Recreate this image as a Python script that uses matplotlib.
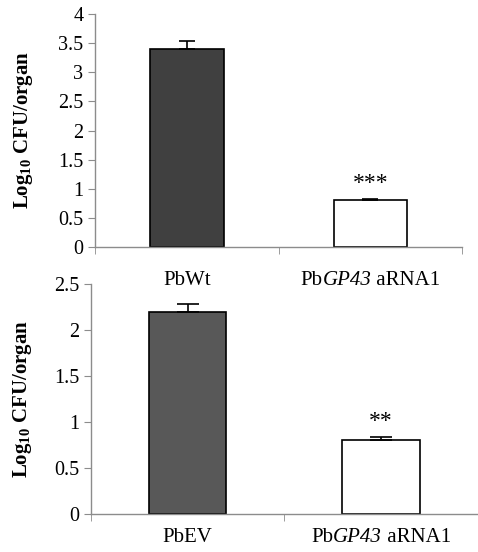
import matplotlib
matplotlib.use('Agg')
import matplotlib.pyplot as plt
from matplotlib.offsetbox import TextArea, HPacker, AnnotationBbox
import numpy as np

plt.rcParams['font.family'] = ['Liberation Serif', 'DejaVu Serif']
plt.rcParams['mathtext.fontset'] = 'custom'
plt.rcParams['mathtext.rm'] = 'Liberation Serif'
plt.rcParams['mathtext.it'] = 'Liberation Serif:italic'
plt.rcParams['mathtext.bf'] = 'Liberation Serif:bold'

# Dados - painel superior
top_labels = [[('PbWt', 'normal')],
              [('Pb', 'normal'), ('GP43', 'italic'), (' aRNA1', 'normal')]]
top_values = [3.40, 0.80]
top_errors = [0.14, 0.03]
top_stars = ['', '***']

# Dados - painel inferior
bot_labels = [[('PbEV', 'normal')],
              [('Pb', 'normal'), ('GP43', 'italic'), (' aRNA1', 'normal')]]
bot_values = [2.20, 0.80]
bot_errors = [0.08, 0.04]
bot_stars = ['', '**']

fig = plt.figure(figsize=(4.78, 5.52), dpi=100)
ax1 = fig.add_axes([0.199, 0.5525, 0.768, 0.422])
ax2 = fig.add_axes([0.190, 0.0688, 0.810, 0.4167])
ax2.patch.set_visible(False)
ax1.set_zorder(2)
ax1.patch.set_visible(False)

spine_col = '#8c8c8c'


def cat_label(ax, x, parts, off):
    boxes = [TextArea(t, textprops=dict(fontsize=15, style=st)) for t, st in parts]
    pack = HPacker(children=boxes, pad=0, sep=0, align='baseline')
    ab = AnnotationBbox(pack, (x, 0), xycoords=('data', 'axes fraction'),
                        xybox=(0, -off), boxcoords='offset points',
                        frameon=False, box_alignment=(0.5, 1), pad=0,
                        annotation_clip=False)
    ax.add_artist(ab)


def draw_panel(ax, labels, values, errors, stars, color, ymax, yticks, cap, off):
    x = np.arange(len(values))
    ax.bar(x, values, width=0.40, color=[color, 'white'], edgecolor='black',
           linewidth=1.2, zorder=2)
    ax.errorbar(x, values, yerr=[[0] * len(errors), errors], fmt='none',
                ecolor='black', elinewidth=1.2, capsize=cap, capthick=1.2, zorder=3)
    for xi, v, e, s in zip(x, values, errors, stars):
        if s:
            ax.text(xi, v + e + ymax * 0.02, s, ha='center', va='bottom', fontsize=17)
    ax.set_xlim(-0.5, len(values) - 0.5)
    ax.set_ylim(0, ymax)
    ax.set_yticks(yticks)
    ax.set_yticklabels([('%g' % t) for t in yticks], fontsize=14.5)
    ax.set_xticks([])
    for xi, parts in zip(x, labels):
        cat_label(ax, xi, parts, off)
    ax.set_xticks(np.arange(-0.5, len(values)), minor=True)
    ax.tick_params(axis='x', which='minor', length=5, color=spine_col, direction='out')
    ax.tick_params(axis='y', length=5, color=spine_col, direction='out')
    for s in ['top', 'right']:
        ax.spines[s].set_visible(False)
    for s in ['left', 'bottom']:
        ax.spines[s].set_color(spine_col)
        ax.spines[s].set_linewidth(1.0)
    ax.set_ylabel(r'$\mathbf{Log_{10}}$ CFU/organ', fontsize=15, fontweight='bold')


draw_panel(ax1, top_labels, top_values, top_errors, top_stars, '#404040', 4,
           [0, 0.5, 1, 1.5, 2, 2.5, 3, 3.5, 4], 6, 17)
draw_panel(ax2, bot_labels, bot_values, bot_errors, bot_stars, '#585858', 2.5,
           [0, 0.5, 1, 1.5, 2, 2.5], 8, 10)
ax1.yaxis.set_label_coords(-0.165, 0.5)
ax2.yaxis.set_label_coords(-0.148, 0.5)

fig.savefig('out.png', dpi=100, facecolor='white')
